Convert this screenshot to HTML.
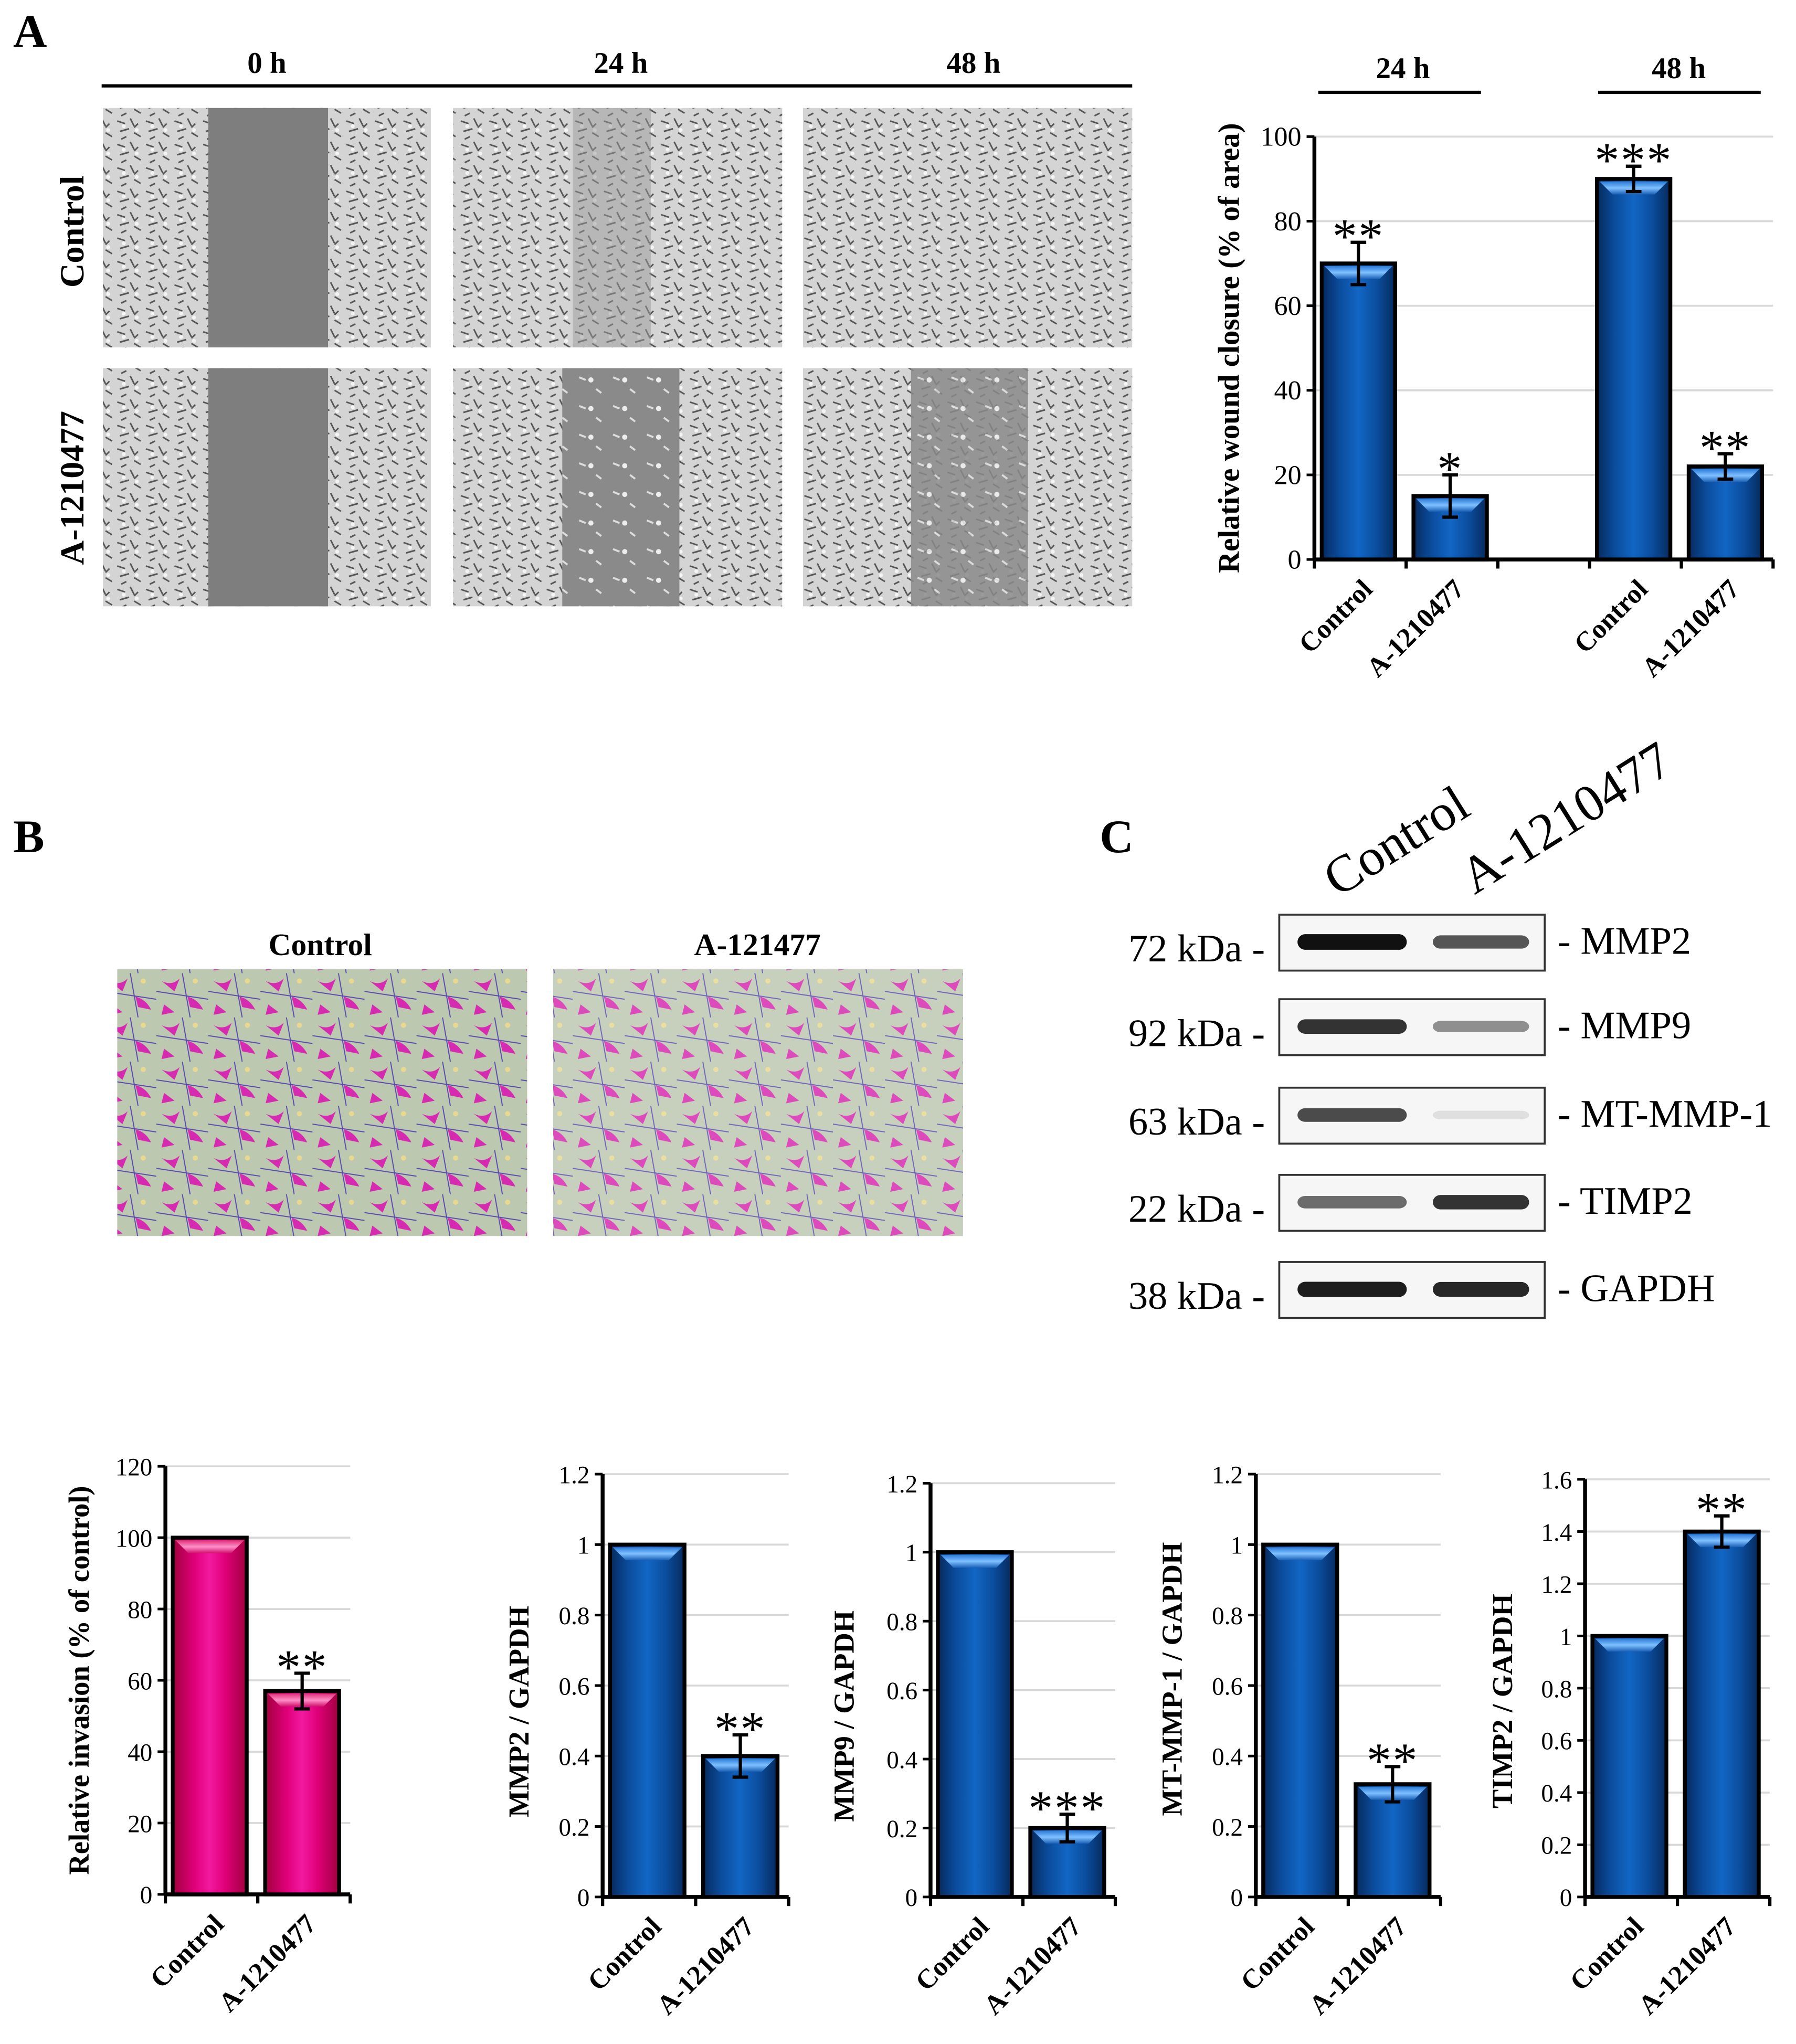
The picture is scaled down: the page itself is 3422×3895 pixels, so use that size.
<!DOCTYPE html>
<html><head><meta charset="utf-8"><style>
html,body{margin:0;padding:0;background:#fff}
svg{display:block}
text{font-family:"Liberation Serif",serif;fill:#000}
</style></head><body>
<svg id="fig" xmlns="http://www.w3.org/2000/svg" width="3422" height="3895" viewBox="0 0 1380 1571">
<defs>
<linearGradient id="blueG" x1="0" x2="1" y1="0" y2="0">
<stop offset="0" stop-color="#062a5c"/><stop offset="0.25" stop-color="#0b4d9e"/><stop offset="0.5" stop-color="#1266c4"/><stop offset="0.75" stop-color="#0b4d9e"/><stop offset="1" stop-color="#062a5c"/></linearGradient>
<linearGradient id="pinkG" x1="0" x2="1" y1="0" y2="0">
<stop offset="0" stop-color="#a0003e"/><stop offset="0.3" stop-color="#e0007a"/><stop offset="0.5" stop-color="#f21aa0"/><stop offset="0.7" stop-color="#e0007a"/><stop offset="1" stop-color="#a0003e"/></linearGradient>
<linearGradient id="bevB" x1="0" x2="0" y1="0" y2="1"><stop offset="0" stop-color="#2a7ad8"/><stop offset="0.5" stop-color="#7fc0ff"/><stop offset="1" stop-color="#1a5fb5"/></linearGradient>
<linearGradient id="bevP" x1="0" x2="0" y1="0" y2="1"><stop offset="0" stop-color="#e0307a"/><stop offset="0.5" stop-color="#ff8fc8"/><stop offset="1" stop-color="#d0106a"/></linearGradient>
<pattern id="cells" width="22" height="18" patternUnits="userSpaceOnUse">
<rect width="22" height="18" fill="#d4d4d4"/>
<path d="M2 3 l6 2 M12 1 l3 6 M4 11 l7 -2 M15 12 l5 3 M9 15 l-4 2 M18 5 l-3 3" stroke="#555" stroke-width="1.2"/>
<circle cx="7" cy="7" r="1.5" fill="#f4f4f4"/><circle cx="17" cy="10" r="1.5" fill="#f4f4f4"/></pattern>
<pattern id="sparse" width="26" height="22" patternUnits="userSpaceOnUse">
<rect width="26" height="22" fill="#8a8a8a"/>
<path d="M3 4 l5 2 M16 13 l4 3" stroke="#ddd" stroke-width="1.5"/><circle cx="12" cy="6" r="2" fill="#eee"/></pattern>
<pattern id="inv" width="40" height="34" patternUnits="userSpaceOnUse">
<rect width="40" height="34" fill="#bcc8b0"/>
<path d="M4 6 q8 4 14 -2 l-4 10 z M24 18 q8 2 12 10 l-10 -2 z M6 24 l8 6 l-10 2z" fill="#d62ab0"/>
<path d="M0 14 l40 6 M20 0 l6 34" stroke="#5a4ab0" stroke-width="0.8"/>
<circle cx="30" cy="6" r="2" fill="#e8d890"/></pattern>
</defs>

<!-- Panel A -->
<text x="10" y="36" font-size="36" font-weight="bold">A</text>
<line x1="78" y1="66" x2="870" y2="66" stroke="#000" stroke-width="2.5"/>
<text x="205" y="56" font-size="23" font-weight="bold" text-anchor="middle">0 h</text>
<text x="477" y="56" font-size="23" font-weight="bold" text-anchor="middle">24 h</text>
<text x="748" y="56" font-size="23" font-weight="bold" text-anchor="middle">48 h</text>
<text transform="translate(64,178) rotate(-90)" font-size="26" font-weight="bold" text-anchor="middle">Control</text>
<text transform="translate(64,375) rotate(-90)" font-size="26" font-weight="bold" text-anchor="middle">A-1210477</text>
<g>
<rect x="79" y="83" width="252" height="184" fill="url(#cells)"/><rect x="160" y="83" width="92" height="184" fill="#7e7e7e"/>
<rect x="348" y="83" width="253" height="184" fill="url(#cells)"/><rect x="440" y="83" width="60" height="184" fill="#9a9a9a" opacity="0.5"/>
<rect x="617" y="83" width="253" height="184" fill="url(#cells)"/>
<rect x="79" y="283" width="252" height="183" fill="url(#cells)"/><rect x="160" y="283" width="92" height="183" fill="#7e7e7e"/>
<rect x="348" y="283" width="253" height="183" fill="url(#cells)"/><rect x="432" y="283" width="90" height="183" fill="url(#sparse)"/>
<rect x="617" y="283" width="253" height="183" fill="url(#cells)"/><rect x="700" y="283" width="90" height="183" fill="url(#sparse)" opacity="0.85"/>
</g>

<!-- Panel B -->
<text x="10" y="655" font-size="36" font-weight="bold">B</text>
<text x="246" y="734" font-size="24" font-weight="bold" text-anchor="middle">Control</text>
<text x="582" y="734" font-size="24" font-weight="bold" text-anchor="middle">A-121477</text>
<rect x="90" y="745" width="315" height="205" fill="url(#inv)"/>
<rect x="425" y="745" width="315" height="205" fill="url(#inv)" opacity="0.85"/>

<!-- Panel C -->
<text x="845" y="655" font-size="36" font-weight="bold">C</text>
<text transform="translate(1028,690) rotate(-32)" font-size="40">Control</text>
<text transform="translate(1133,688) rotate(-32)" font-size="40">A-1210477</text>
<g id="blots"></g>

<g id="charts"></g>
</svg>
<script>
const NS='http://www.w3.org/2000/svg';
function mk(tag,attrs,parent,txt){const e=document.createElementNS(NS,tag);for(const k in attrs)e.setAttribute(k,attrs[k]);if(txt!==undefined)e.textContent=txt;parent.appendChild(e);return e;}

// Blot data
const blotMarkers=['72 kDa -','92 kDa -','63 kDa -','22 kDa -','38 kDa -'];
const blotProteins=['- MMP2','- MMP9','- MT-MMP-1','- TIMP2','- GAPDH'];
const blotControl=[1.0,0.85,0.75,0.6,0.95];
const blotTreated=[0.7,0.45,0.1,0.85,0.9];
const blotG=document.getElementById('blots');
const blotTops=[703,768,836,903,970];
blotMarkers.forEach((m,i)=>{
  const y=blotTops[i];
  const r=mk('rect',{x:983,y:y,width:204,height:43,fill:'#f6f6f6',stroke:'#333','stroke-width':1.5},blotG);
  
  
  const b1=mk('rect',{x:997,y:y+21-(3+3*blotControl[i]),width:84,height:2*(3+3*blotControl[i]),rx:6,fill:'#111',opacity:blotControl[i]},blotG);
  
  
  const b2=mk('rect',{x:1101,y:y+21-(3+3*blotTreated[i]),width:74,height:2*(3+3*blotTreated[i]),rx:6,fill:'#111',opacity:blotTreated[i]},blotG);
  
  
  const t1=mk('text',{x:972,y:y+36,'font-size':30,'text-anchor':'end'},blotG,m);
  
  
  const t2=mk('text',{x:1197,y:y+30,'font-size':30},blotG,blotProteins[i]);
  
  
});

// Chart data
const woundCats=['Control','A-1210477','Control','A-1210477'];
const woundVals=[70,15,90,22];
const woundErr=[5,5,3,3];
const woundStars=['**','*','***','**'];
const woundTicks=[0,20,40,60,80,100];

const invCats=['Control','A-1210477'];
const invVals=[100,57];
const invErr=[0,5];
const invStars=['','**'];
const invTicks=[0,20,40,60,80,100,120];

const mmp2Vals=[1,0.40];const mmp2Err=[0,0.06];const mmp2Stars=['','**'];
const mmp9Vals=[1,0.20];const mmp9Err=[0,0.04];const mmp9Stars=['','***'];
const mtVals=[1,0.32];const mtErr=[0,0.05];const mtStars=['','**'];
const timpVals=[1,1.40];const timpErr=[0,0.06];const timpStars=['','**'];
const ratioTicks=['0','0.2','0.4','0.6','0.8','1','1.2'];
const timpTicks=['0','0.2','0.4','0.6','0.8','1','1.2','1.4','1.6'];

const root=document.getElementById('charts');
function chart(o){
  const g=mk('g',{},root);
  
  
  const ticks=o.ticks.map(Number);const max=ticks[ticks.length-1];
  const ys=v=>o.y0-(v/max)*(o.y0-o.y1);
  const xEnd=o.x0+o.slot*o.slots;
  o.ticks.forEach((t,i)=>{
    const y=ys(ticks[i]);
    if(ticks[i]>0){const gl=mk('line',{x1:o.x0,x2:xEnd,y1:y,y2:y,stroke:'#d8d8d8','stroke-width':1.5},g);
      }
    mk('line',{x1:o.x0-6,x2:o.x0,y1:y,y2:y,stroke:'#000','stroke-width':2},g);
    const tl=mk('text',{x:o.x0-10,y:y+7,'font-size':o.tf,'text-anchor':'end'},g,t);
    
  });
  const ax=mk('line',{x1:o.x0,x2:o.x0,y1:o.y1,y2:o.y0,stroke:'#000','stroke-width':3},g);
  
  const xa=mk('line',{x1:o.x0,x2:xEnd,y1:o.y0,y2:o.y0,stroke:'#000','stroke-width':3},g);
  
  for(let s=0;s<=o.slots;s++) mk('line',{x1:o.x0+s*o.slot,x2:o.x0+s*o.slot,y1:o.y0,y2:o.y0+7,stroke:'#000','stroke-width':2.5},g);
  o.vals.forEach((v,i)=>{
    const si=o.pos[i];const bx=o.x0+si*o.slot+o.slot*0.08,bw=o.slot*0.8;
    const top=ys(v);const h=o.y0-top;
    const bar=mk('rect',{x:bx,y:top,width:bw,height:h,fill:o.grad,stroke:'#000','stroke-width':3},g);
    
    const bh=Math.min(10,h/3);
    mk('polygon',{points:`${bx+2},${top+2} ${bx+bw-2},${top+2} ${bx+bw-2-bh},${top+2+bh} ${bx+2+bh},${top+2+bh}`,fill:o.bev},g);
    const cx=bx+bw/2;
    if(o.err[i]>0){
      const e1=ys(v+o.err[i]),e2=ys(v-o.err[i]);
      const eb=mk('path',{d:`M${cx} ${e1}V${e2}M${cx-6} ${e1}H${cx+6}M${cx-6} ${e2}H${cx+6}`,stroke:'#000','stroke-width':2.5,fill:'none'},g);
      
    }
    if(o.stars[i]){
      const st=mk('text',{x:cx,y:ys(v+o.err[i])+8,'font-size':38,'text-anchor':'middle','letter-spacing':1},g,o.stars[i]);
      
    }
    const cl=mk('text',{transform:`translate(${cx+12},${o.y0+24}) rotate(-45)`,'font-size':o.cf,'font-weight':'bold','text-anchor':'end'},g,o.cats[i]);
    
  });
  const yl=mk('text',{transform:`translate(${o.lx},${(o.y0+o.y1)/2+o.lyOff}) rotate(-90)`,'font-size':o.lf,'font-weight':'bold','text-anchor':'middle'},g,o.ylabel);
  
}

chart({name:'wound-closure-chart',x0:1010,y0:430,y1:105,slot:70.5,slots:5,pos:[0,1,3,4],vals:woundVals,err:woundErr,stars:woundStars,cats:woundCats,ticks:woundTicks.map(String),grad:'url(#blueG)',bev:'url(#bevB)',ylabel:'Relative wound closure (% of area)',lx:952,lyOff:0,tf:21,cf:21,lf:23});
[['24 h',1078,1013,1138],['48 h',1290,1228,1353]].forEach((h,i)=>{
  const t=mk('text',{x:h[1],y:60,'font-size':23,'font-weight':'bold','text-anchor':'middle'},root,h[0]);
  
  mk('line',{x1:h[2],x2:h[3],y1:71,y2:71,stroke:'#000','stroke-width':2.5},root);
});

chart({name:'invasion-chart',x0:127,y0:1456,y1:1127,slot:71,slots:2,pos:[0,1],vals:invVals,err:invErr,stars:invStars,cats:invCats,ticks:invTicks.map(String),grad:'url(#pinkG)',bev:'url(#bevP)',ylabel:'Relative invasion (% of control)',lx:68,lyOff:0,tf:19,cf:21,lf:22});
chart({name:'mmp2-chart',x0:463,y0:1458,y1:1133,slot:71.5,slots:2,pos:[0,1],vals:mmp2Vals,err:mmp2Err,stars:mmp2Stars,cats:invCats,ticks:ratioTicks,grad:'url(#blueG)',bev:'url(#bevB)',ylabel:'MMP2 / GAPDH',lx:406,lyOff:20,tf:19,cf:21,lf:22});
chart({name:'mmp9-chart',x0:715,y0:1458,y1:1140,slot:71,slots:2,pos:[0,1],vals:mmp9Vals,err:mmp9Err,stars:mmp9Stars,cats:invCats,ticks:ratioTicks,grad:'url(#blueG)',bev:'url(#bevB)',ylabel:'MMP9 / GAPDH',lx:656,lyOff:20,tf:19,cf:21,lf:22});
chart({name:'mt-mmp1-chart',x0:965,y0:1458,y1:1133,slot:71,slots:2,pos:[0,1],vals:mtVals,err:mtErr,stars:mtStars,cats:invCats,ticks:ratioTicks,grad:'url(#blueG)',bev:'url(#bevB)',ylabel:'MT-MMP-1 / GAPDH',lx:908,lyOff:-5,tf:19,cf:21,lf:22});
chart({name:'timp2-chart',x0:1218,y0:1458,y1:1137,slot:71,slots:2,pos:[0,1],vals:timpVals,err:timpErr,stars:timpStars,cats:invCats,ticks:timpTicks,grad:'url(#blueG)',bev:'url(#bevB)',ylabel:'TIMP2 / GAPDH',lx:1162,lyOff:10,tf:19,cf:21,lf:22});
</script>
</body></html>
